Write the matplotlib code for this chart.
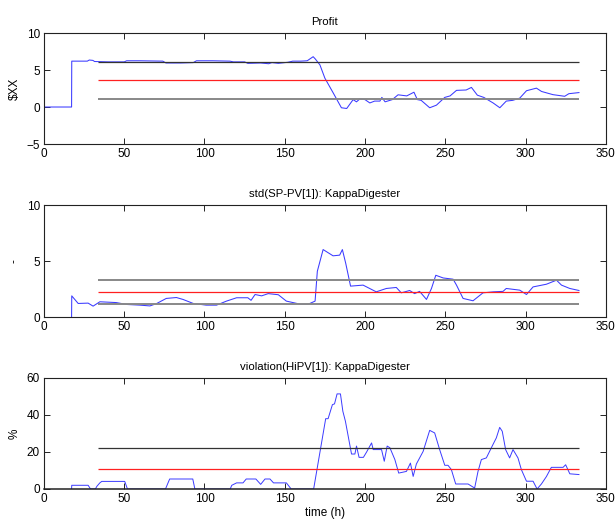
import numpy as np
import matplotlib.pyplot as plt

plt.rcParams['font.family'] = ['Liberation Sans', 'DejaVu Sans']
plt.rcParams['font.size'] = 8.5

# Profit series ($XX)
profit_t = [0, 17.2, 17.3, 27, 28.2, 30.5, 31.5, 40, 50, 51.5, 60, 74, 76, 85, 93,
            95, 105, 115.8, 118, 125, 127, 135, 140, 142, 146, 150, 152, 155, 160,
            164, 167.7, 169, 171.9, 175, 180.2, 185.3, 188.6, 192.6, 194.7, 196.8,
            200, 203, 206, 209.3, 210.5, 212.5, 217, 220.6, 226, 230.5, 232.6, 235,
            240.3, 244.5, 249.7, 253, 257, 263, 266.3, 270, 274, 279.8, 284, 288,
            292, 296.4, 300.6, 306.8, 310, 317.1, 324.4, 327, 333.3]
profit_v = [0, 0, 6.2, 6.2, 6.35, 6.3, 6.15, 6.1, 6.1, 6.25, 6.25, 6.2, 5.95, 5.95, 6.0,
            6.25, 6.25, 6.2, 6.1, 6.1, 5.9, 5.95, 5.85, 6.0, 5.9, 6.0, 6.05, 6.2, 6.2,
            6.25, 6.8, 6.5, 5.7, 3.9, 1.9, -0.1, -0.2, 1.0, 0.7, 1.1,
            1.0, 0.55, 0.8, 0.8, 1.3, 0.7, 1.0, 1.65, 1.5, 2.0, 1.0, 0.9,
            -0.1, 0.25, 1.3, 1.5, 2.25, 2.3, 2.65, 1.6, 1.3, 0.55, -0.1, 0.8,
            0.9, 1.2, 2.2, 2.55, 2.1, 1.67, 1.45, 1.8, 1.95]
profit_limits = [6.08, 3.6, 1.13]

# std(SP-PV[1])
std_t = [17.2, 17.3, 21.3, 27.5, 30.6, 34.8, 45, 51.5, 59.7, 66, 70, 76.2, 82.5, 86.6,
         93, 101, 107.5, 113.7, 120, 127, 129, 131.5, 135.6, 139.7, 146, 151, 159.5,
         164.7, 168.9, 170.3, 173.9, 180.1, 184.2, 185.9, 188, 191, 198.8, 202.9, 207,
         213.3, 219.5, 222.6, 227.8, 230.9, 234, 238.3, 241.4, 244.1, 248.7, 254.9,
         257, 261.1, 267.3, 273.5, 280, 286, 288, 296.4, 300.6, 304.7, 313, 319.3,
         322.4, 327.6, 333.3]
std_v = [0, 1.9, 1.22, 1.25, 0.98, 1.37, 1.3, 1.13, 1.07, 1.0, 1.2, 1.67, 1.75, 1.58,
         1.22, 1.07, 1.07, 1.43, 1.73, 1.73, 1.5, 2.02, 1.9, 2.1, 2.0, 1.43, 1.16,
         1.16, 1.43, 4.1, 6.04, 5.48, 5.54, 6.04, 4.8, 2.77, 2.86, 2.56, 2.26,
         2.56, 2.65, 2.17, 2.38, 2.1, 2.3, 1.58, 2.56, 3.74, 3.5, 3.39,
         2.86, 1.67, 1.46, 2.17, 2.26, 2.3, 2.56, 2.41, 2.02, 2.7, 2.94, 3.3,
         2.86, 2.56, 2.38]
std_limits = [3.3, 2.2, 1.13]

# violation(HiPV[1]) in %
viol_t = [17.2, 17.3, 27.5, 29, 32, 33, 34.8, 36, 50.3, 52, 75.7, 78.3, 92.7, 94, 116,
          117, 120, 124, 126, 132, 135, 137.7, 140.8, 143, 151, 154, 168, 175.5, 177,
          179.7, 181, 182.6, 184.7, 186.2, 187.8, 191.6, 193.7, 194.7, 196.3, 199, 201,
          204.1, 205.1, 210.3, 212, 213.8, 215.5, 218.6, 221, 225.8, 228.3, 230, 232,
          236.2, 240.3, 243.4, 246.5, 249.7, 251.7, 253.8, 256.5, 264.2, 268.3, 270.4,
          272.5, 275.6, 279.7, 281.8, 283.9, 285.5, 287.6, 290.1, 292.2, 295.3, 297.4,
          300.6, 304.7, 307.2, 309.9, 313, 316.1, 323.4, 325, 327.6, 333.3]
viol_v = [0, 2.0, 2.0, 0, 0, 1.5, 3.3, 4.1, 4.1, 0, 0, 5.4, 5.4, 0, 0,
          2.0, 3.3, 3.3, 5.4, 5.4, 2.5, 5.4, 5.4, 3.3, 3.3, 0, 0, 38, 38,
          45.6, 46, 51.4, 51.4, 42, 36.6, 18.9, 18.9, 23.2, 17.1, 17.1, 20,
          24.9, 21.3, 21.3, 15, 23.2, 22.3, 15.9, 8.6, 9.5, 14, 6.8, 13.5,
          20.3, 31.7, 30.3, 21.3, 12.8, 12.8, 10.5, 2.7, 2.7, 0.5, 9.5,
          15.9, 16.8, 24, 27.6, 33.3, 31.2, 21.3, 16.8, 21.3, 16.8, 10.5,
          4.2, 4.2, 0, 2.7, 6.7, 11.7, 11.7, 13.1, 8.2, 7.8]
viol_limits = [22.0, 10.8]

limit_start, limit_end = 33.8, 333.3
blue = '#3a3aff'

fig = plt.figure(figsize=(6.16, 5.25), dpi=100)

def style(ax, ylim, yticks):
    ax.set_xlim(0, 350)
    ax.set_ylim(*ylim)
    ax.set_xticks(np.arange(0, 351, 50))
    ax.set_yticks(yticks)
    ax.tick_params(direction='in', top=True, right=True, length=4, width=0.6, pad=3)
    for s in ax.spines.values():
        s.set_linewidth(0.8)
        s.set_color('#222222')
        s.set_zorder(5)

ax1 = fig.add_axes([0.0714, 0.7257, 0.912, 0.2114])
ax1.plot(profit_t, profit_v, color=blue, lw=0.75)
ax1.hlines(profit_limits, limit_start, limit_end,
           colors=['#333333', '#ff2020', '#888888'], lw=[0.9, 0.9, 1.4])
style(ax1, (-5, 10), [-5, 0, 5, 10])
ax1.set_title('Profit', fontsize=8.2, pad=6)
ax1.set_ylabel('$XX')

ax2 = fig.add_axes([0.0714, 0.396, 0.912, 0.213])
ax2.plot(std_t, std_v, color=blue, lw=0.75)
ax2.hlines(std_limits, limit_start, limit_end,
           colors=['#888888', '#ff2020', '#888888'], lw=[1.4, 0.9, 1.4])
style(ax2, (0, 10), [0, 5, 10])
ax2.set_title('std(SP-PV[1]): KappaDigester', fontsize=8.2, pad=6)
ax2.set_ylabel('-')

ax3 = fig.add_axes([0.0714, 0.0686, 0.912, 0.2114])
ax3.plot(viol_t, viol_v, color=blue, lw=0.7)
ax3.hlines(viol_limits, limit_start, limit_end,
           colors=['#333333', '#ff2020'], lw=0.9)
style(ax3, (0, 60), [0, 20, 40, 60])
ax3.spines['bottom'].set_linewidth(1.1)
ax3.set_title('violation(HiPV[1]): KappaDigester', fontsize=8.2, pad=6)
ax3.set_ylabel('%')
ax3.set_xlabel('time (h)', labelpad=1)

fig.savefig('out.png', dpi=100)
